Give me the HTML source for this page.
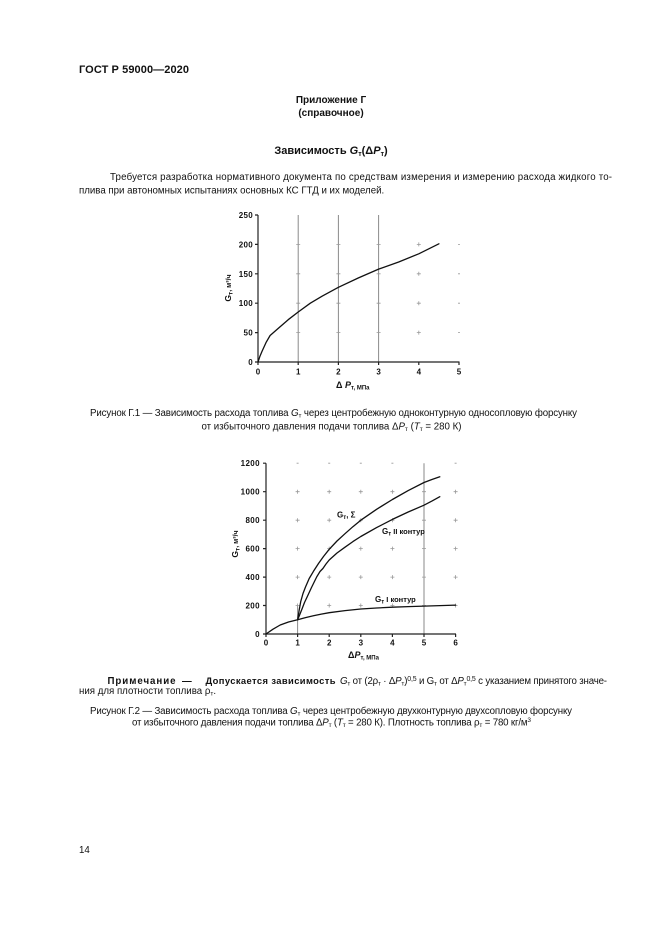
<!DOCTYPE html>
<html>
<head>
<meta charset="utf-8">
<style>
html,body{margin:0;padding:0;background:#fff;}
svg{display:block;}
text{font-family:"Liberation Sans","DejaVu Sans",sans-serif;fill:#111;}
</style>
</head>
<body>
<svg width="661" height="935" viewBox="0 0 661 935" xmlns="http://www.w3.org/2000/svg">
<rect width="661" height="935" fill="#fff"/>

<!-- Header -->
<text x="79" y="73" font-size="11" font-weight="bold" textLength="110" lengthAdjust="spacing">ГОСТ Р 59000—2020</text>
<text x="331" y="103" font-size="10" font-weight="bold" text-anchor="middle">Приложение Г</text>
<text x="331" y="116" font-size="10" font-weight="bold" text-anchor="middle">(справочное)</text>
<text x="331" y="154" font-size="11" font-weight="bold" text-anchor="middle">Зависимость <tspan font-style="italic">G</tspan><tspan font-size="7" dy="2">т</tspan><tspan dy="-2">(Δ</tspan><tspan font-style="italic">P</tspan><tspan font-size="7" dy="2">т</tspan><tspan dy="-2">)</tspan></text>

<!-- Paragraph -->
<text x="110" y="180" font-size="9.7" textLength="502" lengthAdjust="spacing">Требуется разработка нормативного документа по средствам измерения и измерению расхода жидкого то-</text>
<text x="79" y="193.5" font-size="9.7">плива при автономных испытаниях основных КС ГТД и их моделей.</text>

<!-- ===== Chart 1 ===== -->
<g stroke="#8a8a8a" stroke-width="1" fill="none">
  <line x1="298.2" y1="215" x2="298.2" y2="362"/>
  <line x1="338.4" y1="215" x2="338.4" y2="362"/>
  <line x1="378.6" y1="215" x2="378.6" y2="362"/>
</g>
<g stroke="#999" stroke-width="0.8" fill="none">
  <path d="M296.2 332.6h4M296.2 303.2h4M296.2 273.8h4M296.2 244.4h4
           M336.4 332.6h4M336.4 303.2h4M336.4 273.8h4M336.4 244.4h4
           M376.6 332.6h4M376.6 303.2h4M376.6 273.8h4M376.6 244.4h4"/>
  <path d="M416.8 332.6h4M418.8 330.6v4M416.8 303.2h4M418.8 301.2v4M416.8 273.8h4M418.8 271.8v4M416.8 244.4h4M418.8 242.4v4"/>
  <path d="M458 332.6h2M458 303.2h2M458 273.8h2M458 244.4h2"/>
</g>
<g stroke="#222" stroke-width="1.2" fill="none">
  <line x1="258" y1="215" x2="258" y2="362.5"/>
  <line x1="257.5" y1="362" x2="459.5" y2="362"/>
  <path d="M255 215h3M255 244.4h3M255 273.8h3M255 303.2h3M255 332.6h3M255 362h3"/>
  <path d="M258 362v3M298.2 362v3M338.4 362v3M378.6 362v3M418.8 362v3M459 362v3"/>
</g>
<polyline fill="none" stroke="#111" stroke-width="1.3" stroke-linejoin="round" stroke-linecap="round"
  points="258,362 260,356.1 262,351.4 266,342.6 270.1,335.5 278.1,328.5 288.2,319.7 298.2,312 310.3,303.2 322.3,296.1 338.4,287.3 358.5,277.9 378.6,269.1 398.7,262 418.8,253.8 438.9,243.8"/>
<g font-size="8" font-weight="bold" text-anchor="end" letter-spacing="0.3">
  <text x="253" y="218">250</text>
  <text x="253" y="247.4">200</text>
  <text x="253" y="276.8">150</text>
  <text x="253" y="306.2">100</text>
  <text x="253" y="335.6">50</text>
  <text x="253" y="365">0</text>
</g>
<g font-size="8" font-weight="bold" text-anchor="middle">
  <text x="258" y="374.5">0</text>
  <text x="298.2" y="374.5">1</text>
  <text x="338.4" y="374.5">2</text>
  <text x="378.6" y="374.5">3</text>
  <text x="418.8" y="374.5">4</text>
  <text x="459" y="374.5">5</text>
</g>
<text x="336" y="388" font-size="9" font-weight="bold">Δ <tspan font-style="italic">P</tspan><tspan font-size="6" dy="1.5">т, МПа</tspan></text>
<text transform="translate(231,288) rotate(-90)" text-anchor="middle" font-size="8.5" font-weight="bold">G<tspan font-size="6.5" dy="1.5">т</tspan><tspan font-size="7" dy="-1.5">, м³/ч</tspan></text>

<!-- Caption 1 -->
<text x="90" y="416" font-size="9.7" textLength="487" lengthAdjust="spacing">Рисунок Г.1 — Зависимость расхода топлива <tspan font-style="italic">G</tspan><tspan font-size="6.5" dy="1.5">т</tspan><tspan dy="-1.5"> через центробежную одноконтурную односопловую форсунку</tspan></text>
<text x="331.5" y="429.5" font-size="9.7" text-anchor="middle">от избыточного давления подачи топлива Δ<tspan font-style="italic">P</tspan><tspan font-size="6.5" dy="1.5">т</tspan><tspan dy="-1.5"> (</tspan><tspan font-style="italic">T</tspan><tspan font-size="6.5" dy="1.5">т</tspan><tspan dy="-1.5"> = 280 К)</tspan></text>

<!-- ===== Chart 2 ===== -->
<g stroke="#8a8a8a" stroke-width="1" fill="none">
  <line x1="424" y1="463.2" x2="424" y2="634"/>
  <line x1="297.6" y1="605.5" x2="297.6" y2="634"/>
</g>
<g stroke="#999" stroke-width="0.8" fill="none">
  <path d="M295.6 605.5h4M297.6 603.5v4M295.6 577.1h4M297.6 575.1v4M295.6 548.6h4M297.6 546.6v4M295.6 520.2h4M297.6 518.2v4M295.6 491.7h4M297.6 489.7v4
           M327.2 605.5h4M329.2 603.5v4M327.2 577.1h4M329.2 575.1v4M327.2 548.6h4M329.2 546.6v4M327.2 520.2h4M329.2 518.2v4M327.2 491.7h4M329.2 489.7v4
           M358.8 605.5h4M360.8 603.5v4M358.8 577.1h4M360.8 575.1v4M358.8 548.6h4M360.8 546.6v4M358.8 520.2h4M360.8 518.2v4M358.8 491.7h4M360.8 489.7v4
           M390.4 605.5h4M392.4 603.5v4M390.4 577.1h4M392.4 575.1v4M390.4 548.6h4M392.4 546.6v4M390.4 520.2h4M392.4 518.2v4M390.4 491.7h4M392.4 489.7v4
           M422 605.5h4M422 577.1h4M422 548.6h4M422 520.2h4M422 491.7h4
           M453.6 605.5h4M455.6 603.5v4M453.6 577.1h4M455.6 575.1v4M453.6 548.6h4M455.6 546.6v4M453.6 520.2h4M455.6 518.2v4M453.6 491.7h4M455.6 489.7v4
           M296.6 463.2h2M328.2 463.2h2M359.8 463.2h2M391.4 463.2h2M454.6 463.2h2"/>
</g>
<g stroke="#222" stroke-width="1.2" fill="none">
  <line x1="266" y1="463.2" x2="266" y2="634.5"/>
  <line x1="265.5" y1="634" x2="456" y2="634"/>
  <path d="M263 463.2h3M263 491.7h3M263 520.2h3M263 548.6h3M263 577.1h3M263 605.5h3M263 634h3"/>
  <path d="M266 634v3M297.6 634v3M329.2 634v3M360.8 634v3M392.4 634v3M424 634v3M455.6 634v3"/>
</g>
<g fill="none" stroke="#111" stroke-width="1.3" stroke-linejoin="round" stroke-linecap="round">
  <polyline points="266,634 273,629.2 280.2,625 288.5,622 297.6,619.8 305.5,617.6 313.4,615.8 321.3,614.1 329.2,612.7 345,610.6 360.8,609 376.6,608 392.4,607.2 408.2,606.6 424,606.1 439.8,605.6 455.6,605.1"/>
  <polyline points="297.6,619.8 299.2,610 300.8,601.3 303,593.5 305.5,587 309.2,578.5 313.4,571.4 318.5,563.5 323.5,556.5 329.2,549.3 337,541 345,533.7 352.9,526.7 360.8,520.2 376.6,509.3 392.4,499.5 408.2,490.6 424,482.5 431.9,479.5 439.8,476.8"/>
  <polyline points="297.6,619.8 299.2,616 302,609 304.5,602.5 307.1,597 311.5,587.5 316.6,577.1 320,571.5 322.9,568.5 326,564 329.2,560 337,553 345,547.2 352.9,541.6 360.8,536.5 376.6,527.6 392.4,519.4 408.2,512 424,505.2 431.9,501.1 439.8,496.7"/>
</g>
<g font-size="8" font-weight="bold" text-anchor="end" letter-spacing="0.4">
  <text x="260" y="466.2">1200</text>
  <text x="260" y="494.7">1000</text>
  <text x="260" y="523.2">800</text>
  <text x="260" y="551.6">600</text>
  <text x="260" y="580.1">400</text>
  <text x="260" y="608.5">200</text>
  <text x="260" y="637">0</text>
</g>
<g font-size="8" font-weight="bold" text-anchor="middle">
  <text x="266" y="645.5">0</text>
  <text x="297.6" y="645.5">1</text>
  <text x="329.2" y="645.5">2</text>
  <text x="360.8" y="645.5">3</text>
  <text x="392.4" y="645.5">4</text>
  <text x="424" y="645.5">5</text>
  <text x="455.6" y="645.5">6</text>
</g>
<text x="348" y="658" font-size="9" font-weight="bold">Δ<tspan font-style="italic">P</tspan><tspan font-size="6" dy="1.5">т, МПа</tspan></text>
<text transform="translate(238,544) rotate(-90)" text-anchor="middle" font-size="8.5" font-weight="bold">G<tspan font-size="6.5" dy="1.5">т</tspan><tspan font-size="7" dy="-1.5">, м³/ч</tspan></text>
<text x="337" y="517.5" font-size="8" font-weight="bold">G<tspan font-size="6" dy="1.5">т</tspan><tspan dy="-1.5">, Σ</tspan></text>
<text x="382" y="534" font-size="8" font-weight="bold">G<tspan font-size="6" dy="1.5">т</tspan><tspan dy="-1.5" font-size="7.5"> II контур</tspan></text>
<text x="375" y="602" font-size="8" font-weight="bold">G<tspan font-size="6" dy="1.5">т</tspan><tspan dy="-1.5" font-size="7.5"> I контур</tspan></text>

<!-- Note -->
<text x="107.5" y="684" font-size="9.7" font-weight="bold" textLength="68" lengthAdjust="spacing">Примечание</text>
<text x="182" y="684" font-size="9.7" font-weight="bold">—</text>
<text x="205.5" y="684" font-size="9.4" font-weight="bold" textLength="130" lengthAdjust="spacing">Допускается зависимость</text>
<text x="340" y="684" font-size="9.7" textLength="267" lengthAdjust="spacing"><tspan font-style="italic">G</tspan><tspan font-size="6.5" dy="1.5">т</tspan><tspan dy="-1.5"> от (2ρ</tspan><tspan font-size="6.5" dy="1.5">т</tspan><tspan dy="-1.5"> · Δ</tspan><tspan font-style="italic">P</tspan><tspan font-size="6.5" dy="1.5">т</tspan><tspan dy="-1.5">)</tspan><tspan font-size="7" dy="-3">0,5</tspan><tspan dy="3"> и G</tspan><tspan font-size="6.5" dy="1.5">т</tspan><tspan dy="-1.5"> от Δ</tspan><tspan font-style="italic">P</tspan><tspan font-size="6.5" dy="1.5">т</tspan><tspan font-size="7" dy="-4.5">0,5</tspan><tspan dy="3"> с указанием принятого значе-</tspan></text>
<text x="79" y="693.8" font-size="9.7">ния для плотности топлива ρ<tspan font-size="6.5" dy="1.5">т</tspan><tspan dy="-1.5">.</tspan></text>

<!-- Caption 2 -->
<text x="90" y="714" font-size="9.7" textLength="482" lengthAdjust="spacing">Рисунок Г.2 — Зависимость расхода топлива <tspan font-style="italic">G</tspan><tspan font-size="6.5" dy="1.5">т</tspan><tspan dy="-1.5"> через центробежную двухконтурную двухсопловую форсунку</tspan></text>
<text x="132" y="725.5" font-size="9.7" textLength="399" lengthAdjust="spacing">от избыточного давления подачи топлива Δ<tspan font-style="italic">P</tspan><tspan font-size="6.5" dy="1.5">т</tspan><tspan dy="-1.5"> (</tspan><tspan font-style="italic">T</tspan><tspan font-size="6.5" dy="1.5">т</tspan><tspan dy="-1.5"> = 280 К). Плотность топлива ρ</tspan><tspan font-size="6.5" dy="1.5">т</tspan><tspan dy="-1.5"> = 780 кг/м</tspan><tspan font-size="6.5" dy="-3.5">3</tspan></text>

<!-- Page number -->
<text x="79" y="853" font-size="9.7">14</text>
</svg>
</body>
</html>
